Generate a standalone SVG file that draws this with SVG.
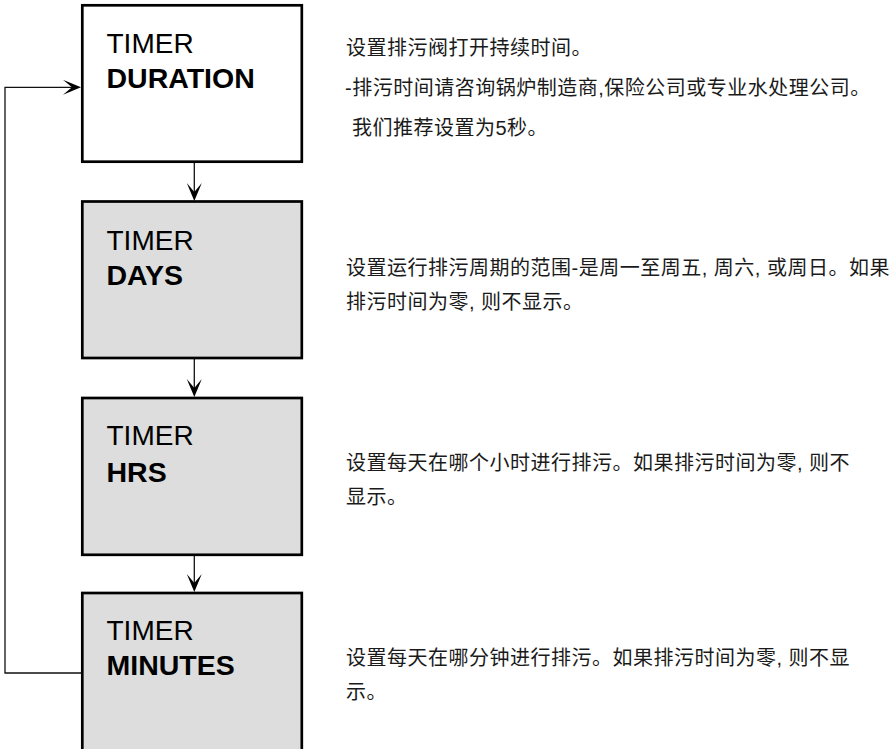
<svg xmlns="http://www.w3.org/2000/svg" width="889" height="749" viewBox="0 0 889 749">
  <style>
    .box { stroke: #000; stroke-width: 2.7; }
    .white { fill: #fff; }
    .grey { fill: #dcdddc; }
    .t1 { font-family: "Liberation Sans", Arial, sans-serif; font-size: 28px; fill: #000; }
    .t2 { font-family: "Liberation Sans", Arial, sans-serif; font-size: 28.5px; font-weight: bold; fill: #000; }
    .desc { font-family: "Liberation Sans", "Noto Sans CJK SC", sans-serif; font-size: 20px; letter-spacing: 0.5px; fill: #1a1a1a; }
    .conn { fill: none; stroke: #111; stroke-width: 1.3; }
  </style>
  <defs>
    <marker id="arrow" viewBox="-18 -7.5 18 15" markerUnits="userSpaceOnUse" markerWidth="18" markerHeight="15" refX="-9" refY="0" orient="auto">
      <path d="M0,0 L-18,-7.5 L-9,0 L-18,7.5 Z" fill="#000"/>
    </marker>
  </defs>
  <rect width="889" height="749" fill="#fff"/>

  <g id="connectors">
    <line class="conn" x1="194.3" y1="163" x2="194.3" y2="192" marker-end="url(#arrow)"/>
    <line class="conn" x1="194.3" y1="359" x2="194.3" y2="388" marker-end="url(#arrow)"/>
    <line class="conn" x1="194.3" y1="556" x2="194.3" y2="583" marker-end="url(#arrow)"/>
    <path class="conn" d="M82,673 H5 V87.3 H72" marker-end="url(#arrow)"/>
  </g>

  <g id="node-duration">
    <rect class="box white" x="82.3" y="5.3" width="219.5" height="156.4"/>
    <text class="t1" x="106.5" y="53.3">TIMER</text>
    <text class="t2" x="106.5" y="88.3">DURATION</text>
  </g>

  <g id="node-days">
    <rect class="box grey" x="82.3" y="201.5" width="219.5" height="156.5"/>
    <text class="t1" x="106.5" y="250">TIMER</text>
    <text class="t2" x="106.5" y="285">DAYS</text>
  </g>

  <g id="node-hrs">
    <rect class="box grey" x="82.3" y="398" width="219.5" height="156.8"/>
    <text class="t1" x="106.5" y="445">TIMER</text>
    <text class="t2" x="106.5" y="481.5">HRS</text>
  </g>

  <g id="node-minutes">
    <rect class="box grey" x="82.3" y="593" width="219.5" height="170"/>
    <text class="t1" x="106.5" y="640">TIMER</text>
    <text class="t2" x="106.5" y="675">MINUTES</text>
  </g>

  <g id="notes">
    <text class="desc" x="346" y="55">设置排污阀打开持续时间。</text>
    <text class="desc" x="345" y="95">-排污时间请咨询锅炉制造商,保险公司或专业水处理公司。</text>
    <text class="desc" x="352" y="135">我们推荐设置为5秒。</text>

    <text class="desc" x="346" y="275">设置运行排污周期的范围-是周一至周五, 周六, 或周日。如果</text>
    <text class="desc" x="346" y="309">排污时间为零, 则不显示。</text>

    <text class="desc" x="346" y="470">设置每天在哪个小时进行排污。如果排污时间为零, 则不</text>
    <text class="desc" x="346" y="504">显示。</text>

    <text class="desc" x="346" y="665">设置每天在哪分钟进行排污。如果排污时间为零, 则不显</text>
    <text class="desc" x="346" y="699">示。</text>
  </g>
</svg>
